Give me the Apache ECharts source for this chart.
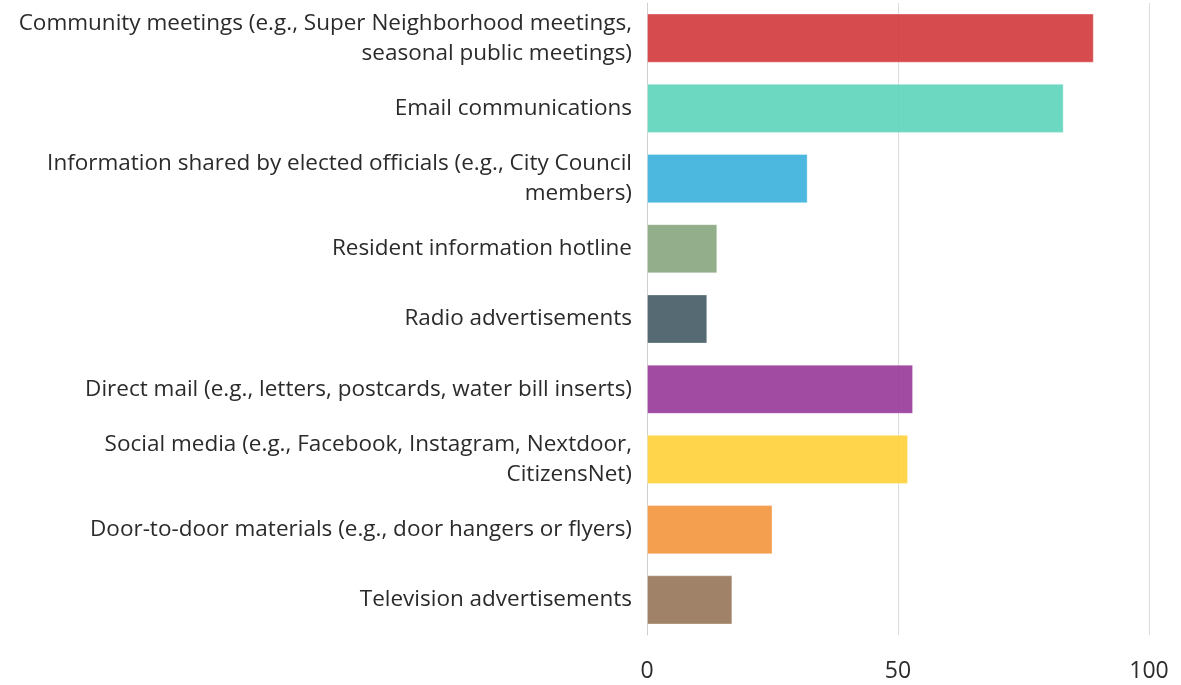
<!DOCTYPE html>
<html>
<head>
<meta charset="utf-8">
<script src="https://cdn.jsdelivr.net/npm/echarts@6/dist/echarts.min.js"></script>
<style>
  html, body { margin: 0; padding: 0; background: #ffffff; }
  #chart { width: 1181px; height: 685px; }
</style>
</head>
<body>
<div id="chart"></div>
<script>
// Communication channels, listed top to bottom
const categories = [
  'Community meetings (e.g., Super Neighborhood meetings,\nseasonal public meetings)',
  'Email communications',
  'Information shared by elected officials (e.g., City Council\nmembers)',
  'Resident information hotline',
  'Radio advertisements',
  'Direct mail (e.g., letters, postcards, water bill inserts)',
  'Social media (e.g., Facebook, Instagram, Nextdoor,\nCitizensNet)',
  'Door-to-door materials (e.g., door hangers or flyers)',
  'Television advertisements'
];

const values = [89, 83, 32, 14, 12, 53, 52, 25, 17];

const barColors = [
  '#d1383b', '#5cd4ba', '#38b0dc', '#87a57d', '#435a64',
  '#983798', '#ffd037', '#f3943d', '#957457'
];

const xTicks = { min: 0, max: 100, interval: 50 };

const chart = echarts.init(document.getElementById('chart'), null, { renderer: 'canvas' });

const FONT = '"Open Sans", "Noto Sans", sans-serif';

chart.setOption({
  backgroundColor: '#ffffff',
  animation: false,
  grid: { left: 647, right: 32, top: 3, bottom: 50, containLabel: false },
  xAxis: {
    type: 'value',
    min: xTicks.min,
    max: xTicks.max,
    interval: xTicks.interval,
    axisLine: { show: false },
    axisTick: { show: false },
    splitLine: { show: true, lineStyle: { color: '#dcdcdc', width: 1 } },
    axisLabel: { color: '#2b2b2b', fontSize: 23, fontFamily: FONT, margin: 25 }
  },
  yAxis: {
    type: 'category',
    inverse: true,
    data: categories,
    axisLine: { show: true, lineStyle: { color: '#cfcfcf', width: 1 } },
    axisTick: { show: false },
    axisLabel: {
      color: '#2b2b2b', fontSize: 22.5, lineHeight: 30, fontFamily: FONT,
      margin: 15, align: 'right'
    }
  },
  series: [{
    type: 'bar',
    data: values.map((v, i) => ({
      value: v,
      itemStyle: { color: barColors[i] }
    })),
    barCategoryGap: '30%',
    itemStyle: { opacity: 0.9, borderWidth: 1, borderColor: 'rgba(255,255,255,0.35)' },
    z: 3
  }]
});
</script>
</body>
</html>
